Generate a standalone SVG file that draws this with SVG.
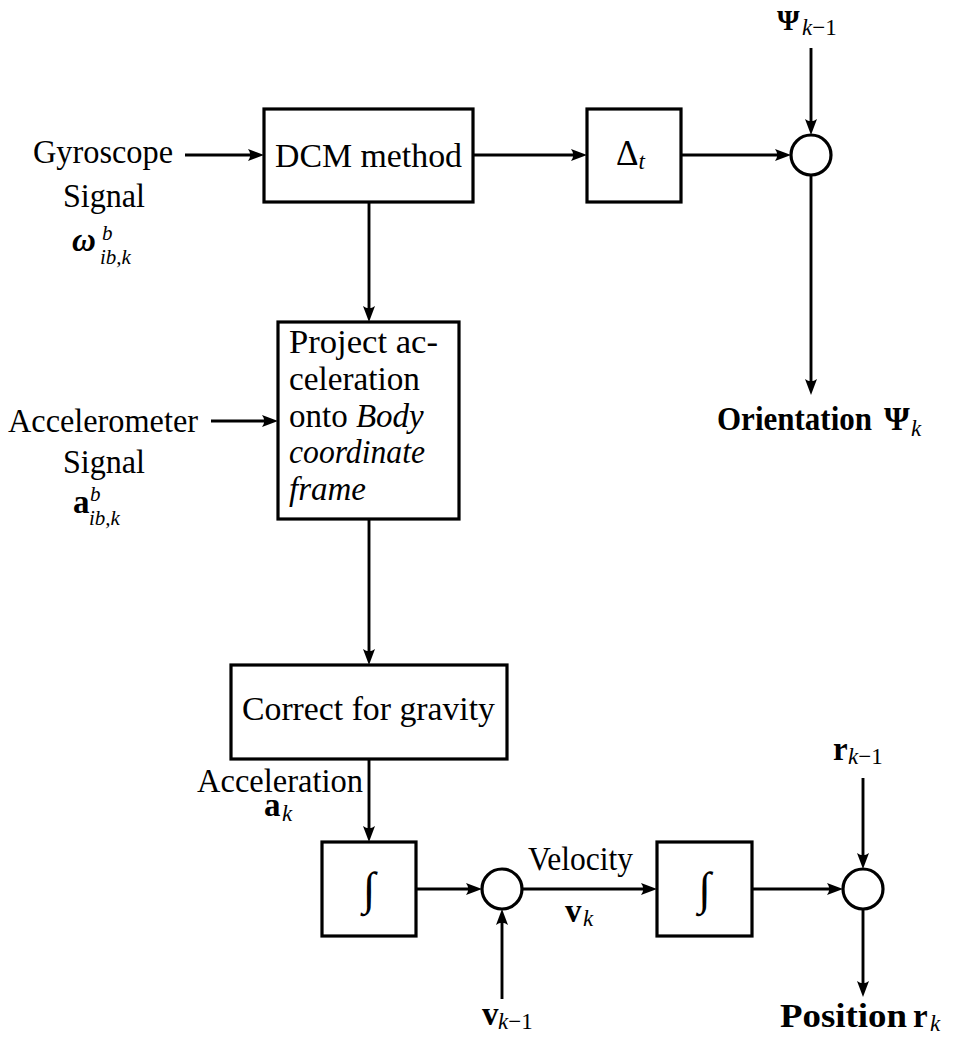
<svg xmlns="http://www.w3.org/2000/svg" width="954" height="1038" viewBox="0 0 954 1038">
  <style>
    .box { fill: #fff; stroke: #000; stroke-width: 3.2; }
    .sum { fill: #fff; stroke: #000; stroke-width: 3.2; }
    .wire { fill: none; stroke: #000; stroke-width: 2.9; marker-end: url(#arr); }
    .t { font-family: "Liberation Serif", "Times New Roman", serif; font-size: 33px; fill: #000; }
    .b { font-weight: bold; }
    .i { font-style: italic; }
    .s { font-size: 23px; }
    .ss { font-size: 21px; }
    .int { font-family: "Liberation Serif", serif; font-style: italic; font-size: 46px; fill: #000; }
  </style>
  <defs>
    <marker id="arr" markerUnits="userSpaceOnUse" viewBox="-18 -8 18 16" refX="-8" refY="0" markerWidth="18" markerHeight="16" orient="auto" overflow="visible">
      <path d="M0,0 L-16,-6 Q-11.5,0 -16,6 Z" fill="#000"/>
    </marker>
  </defs>
  <rect width="954" height="1038" fill="#fff"/>

  <!-- connectors -->
  <g id="connectors">
    <path class="wire" d="M185,155 H256"/>
    <path class="wire" d="M473,155 H579"/>
    <path class="wire" d="M681,155 H783"/>
    <path class="wire" d="M811,48 V127"/>
    <path class="wire" d="M811,175 V387"/>
    <path class="wire" d="M369,202 V314"/>
    <path class="wire" d="M211,421 H270"/>
    <path class="wire" d="M369,519 V657"/>
    <path class="wire" d="M369,759 V834"/>
    <path class="wire" d="M416,889 H474"/>
    <path class="wire" d="M502,999 V917"/>
    <path class="wire" d="M522,889 H649"/>
    <path class="wire" d="M752,889 H835"/>
    <path class="wire" d="M863,778 V861"/>
    <path class="wire" d="M863,909 V989"/>
  </g>

  <!-- gyroscope input -->
  <g id="gyro">
    <text class="t" x="33" y="163" textLength="140" lengthAdjust="spacingAndGlyphs">Gyroscope</text>
    <text class="t" x="63" y="207" textLength="82" lengthAdjust="spacingAndGlyphs">Signal</text>
    <text class="t b i" x="72" y="251">ω</text>
    <text class="t i ss" x="102" y="240">b</text>
    <text class="t i ss" x="100" y="264">ib,k</text>
  </g>

  <g id="dcm">
    <rect class="box" x="264" y="109" width="209" height="93"/>
    <text class="t" x="275" y="167" textLength="187" lengthAdjust="spacingAndGlyphs">DCM method</text>
  </g>

  <g id="dt">
    <rect class="box" x="587" y="109" width="94" height="93"/>
    <text class="t" x="616" y="165" style="font-size:35px">Δ<tspan class="i s" dy="4">t</tspan></text>
  </g>

  <g id="sum_orient">
    <circle class="sum" cx="811" cy="155" r="20"/>
  </g>

  <g id="psi_prev">
    <text class="t b" x="777" y="30" style="font-size:29px">Ψ</text>
    <text class="t s" x="802" y="35"><tspan class="i">k</tspan>−1</text>
  </g>

  <g id="orientation">
    <text class="t b" x="717" y="430" textLength="155" lengthAdjust="spacingAndGlyphs">Orientation</text>
    <text class="t b" x="884" y="430">Ψ</text>
    <text class="t i s" x="911" y="436">k</text>
  </g>

  <!-- accelerometer input -->
  <g id="accel">
    <text class="t" x="8" y="432" textLength="190" lengthAdjust="spacingAndGlyphs">Accelerometer</text>
    <text class="t" x="63" y="473" textLength="82" lengthAdjust="spacingAndGlyphs">Signal</text>
    <text class="t b" x="73" y="513">a</text>
    <text class="t i ss" x="90" y="501">b</text>
    <text class="t i ss" x="89" y="525">ib,k</text>
  </g>

  <g id="project">
    <rect class="box" x="278" y="322" width="181" height="197"/>
    <text class="t" x="289" y="353" textLength="149" lengthAdjust="spacingAndGlyphs">Project ac-</text>
    <text class="t" x="289" y="390" textLength="131" lengthAdjust="spacingAndGlyphs">celeration</text>
    <text class="t" x="289" y="427">onto <tspan class="i">Body</tspan></text>
    <text class="t i" x="289" y="463" textLength="136" lengthAdjust="spacingAndGlyphs">coordinate</text>
    <text class="t i" x="289" y="500" textLength="77" lengthAdjust="spacingAndGlyphs">frame</text>
  </g>

  <g id="gravity">
    <rect class="box" x="231" y="665" width="276" height="94"/>
    <text class="t" x="242" y="720" textLength="253" lengthAdjust="spacingAndGlyphs">Correct for gravity</text>
  </g>

  <g id="accel_k">
    <text class="t" x="197" y="792" textLength="166" lengthAdjust="spacingAndGlyphs">Acceleration</text>
    <text class="t b" x="264" y="816">a</text>
    <text class="t i s" x="282" y="821">k</text>
  </g>

  <g id="int_vel">
    <rect class="box" x="322" y="842" width="94" height="94"/>
    <text class="int" x="369" y="904" text-anchor="middle">∫</text>
  </g>

  <g id="sum_vel">
    <circle class="sum" cx="502" cy="889" r="20"/>
  </g>

  <g id="velocity">
    <text class="t" x="528" y="870" textLength="105" lengthAdjust="spacingAndGlyphs">Velocity</text>
    <text class="t b" x="565" y="922">v</text>
    <text class="t i s" x="583" y="926">k</text>
  </g>

  <g id="v_prev">
    <text class="t b" x="482" y="1025">v</text>
    <text class="t s" x="498" y="1029"><tspan class="i">k</tspan>−1</text>
  </g>

  <g id="int_pos">
    <rect class="box" x="657" y="842" width="95" height="94"/>
    <text class="int" x="704.5" y="904" text-anchor="middle">∫</text>
  </g>

  <g id="sum_pos">
    <circle class="sum" cx="863" cy="889" r="20"/>
  </g>

  <g id="r_prev">
    <text class="t b" x="833" y="760">r</text>
    <text class="t s" x="848" y="764"><tspan class="i">k</tspan>−1</text>
  </g>

  <g id="position">
    <text class="t b" x="780" y="1027" textLength="127" lengthAdjust="spacingAndGlyphs">Position</text>
    <text class="t b" x="913" y="1027">r</text>
    <text class="t i s" x="930" y="1031">k</text>
  </g>
</svg>
